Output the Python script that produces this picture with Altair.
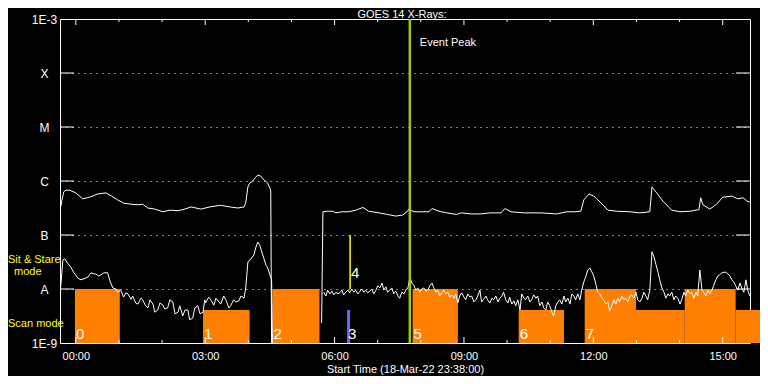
import altair as alt
import pandas as pd

# ---------------- data ----------------
# time: hours from 00:00 UT 19-Mar-22 (plot starts 18-Mar-22 23:38)
# flux: log10 of GOES X-ray flux in W/m^2
long_t1 = [-0.35, -0.32, -0.28, -0.23, -0.14, 0.00, 0.16, 0.32, 0.51, 0.70,
           0.83, 0.97, 1.11, 1.28, 1.44, 1.55, 1.67, 1.83, 2.02, 2.18,
           2.37, 2.53, 2.67, 2.90, 3.11, 3.36, 3.57, 3.76, 3.90, 3.94,
           3.99, 4.03, 4.10, 4.17, 4.22, 4.29, 4.34, 4.45, 4.52, 4.54]
long_log1 = [-6.48, -6.35, -6.20, -6.17, -6.17, -6.22, -6.33, -6.30, -6.24, -6.22,
             -6.28, -6.35, -6.41, -6.43, -6.44, -6.43, -6.50, -6.52, -6.57, -6.54,
             -6.55, -6.52, -6.48, -6.52, -6.48, -6.45, -6.48, -6.50, -6.48, -6.41,
             -6.11, -6.04, -6.00, -5.93, -5.89, -5.91, -5.96, -6.04, -6.17, -9.0]

long_t2 = [5.70, 5.73, 5.84, 5.96, 6.03, 6.17, 6.33, 6.49, 6.66, 6.79,
           7.03, 7.23, 7.42, 7.58, 7.68, 7.72, 7.84, 7.95, 8.19, 8.26,
           8.42, 8.60, 8.83, 8.93, 9.16, 9.39, 9.62, 9.86, 9.95, 10.09,
           10.39, 10.78, 11.15, 11.39, 11.57, 11.71, 11.78, 11.90, 12.01, 12.08,
           12.22, 12.34, 12.54, 12.85, 13.08, 13.31, 13.36, 13.47, 13.61, 13.82,
           14.01, 14.24, 14.45, 14.49, 14.54, 14.70, 14.86, 15.00, 15.21, 15.35,
           15.47, 15.56, 15.63]
long_log2 = [-8.63, -6.57, -6.56, -6.56, -6.59, -6.57, -6.57, -6.54, -6.49, -6.56,
             -6.59, -6.62, -6.65, -6.63, -6.57, -6.52, -6.57, -6.57, -6.57, -6.51,
             -6.56, -6.59, -6.62, -6.59, -6.61, -6.61, -6.59, -6.59, -6.51, -6.57,
             -6.59, -6.59, -6.61, -6.57, -6.57, -6.56, -6.35, -6.24, -6.28, -6.33,
             -6.44, -6.54, -6.56, -6.57, -6.59, -6.57, -6.11, -6.22, -6.37, -6.54,
             -6.57, -6.56, -6.53, -6.31, -6.44, -6.52, -6.43, -6.30, -6.28, -6.33,
             -6.31, -6.37, -6.39]

short_t1 = [-0.35, -0.30, -0.26, -0.19, -0.12, -0.05, 0.05, 0.12, 0.19, 0.28,
            0.35, 0.42, 0.46, 0.53, 0.58, 0.65, 0.74, 0.79, 0.86, 0.93,
            0.97, 1.04, 1.11, 1.16, 1.21, 1.28, 1.32, 1.39, 1.44, 1.51,
            1.55, 1.62, 1.67, 1.72, 1.79, 1.83, 1.90, 1.95, 2.02, 2.06,
            2.13, 2.18, 2.25, 2.30, 2.37, 2.41, 2.48, 2.53, 2.60, 2.64,
            2.71, 2.76, 2.83, 2.88, 2.95, 2.99, 3.01, 3.08, 3.13, 3.20,
            3.25, 3.32, 3.36, 3.43, 3.48, 3.55, 3.59, 3.66, 3.71, 3.78,
            3.83, 3.90, 3.94, 3.99, 4.06, 4.13, 4.17, 4.22, 4.27, 4.31,
            4.36, 4.41, 4.45, 4.50, 4.54, 4.56]
short_log1 = [-7.96, -7.46, -7.44, -7.52, -7.59, -7.69, -7.80, -7.83, -7.81, -7.78,
              -7.70, -7.72, -7.72, -7.76, -7.74, -7.70, -7.70, -7.85, -7.98, -8.00,
              -8.06, -8.02, -8.15, -8.07, -8.09, -8.19, -8.13, -8.26, -8.28, -8.17,
              -8.20, -8.31, -8.35, -8.20, -8.28, -8.43, -8.39, -8.26, -8.30, -8.37,
              -8.35, -8.20, -8.24, -8.46, -8.43, -8.31, -8.50, -8.39, -8.39, -8.57,
              -8.54, -8.35, -8.31, -8.46, -8.43, -8.20, -8.26, -8.15, -8.20, -8.30,
              -8.17, -8.24, -8.28, -8.13, -8.20, -8.35, -8.31, -8.20, -8.24, -8.22,
              -8.13, -8.17, -7.98, -7.50, -7.44, -7.37, -7.24, -7.13, -7.20, -7.31,
              -7.43, -7.56, -7.61, -7.74, -7.83, -9.0]

short_t2 = [5.75, 5.80, 5.84, 5.89, 5.94, 5.98, 6.03, 6.08, 6.12, 6.17,
            6.21, 6.26, 6.31, 6.35, 6.40, 6.45, 6.49, 6.54, 6.59, 6.63,
            6.68, 6.72, 6.77, 6.82, 6.86, 6.91, 6.96, 7.00, 7.05, 7.10,
            7.14, 7.19, 7.23, 7.28, 7.33, 7.37, 7.42, 7.47, 7.51, 7.56,
            7.61, 7.65, 7.70, 7.75, 7.79, 7.84, 7.88, 7.93, 7.98, 8.02,
            8.07, 8.12, 8.16, 8.21, 8.26, 8.30, 8.35, 8.39, 8.44, 8.49,
            8.53, 8.58, 8.63, 8.67, 8.72, 8.77, 8.81, 8.86, 8.90, 8.95,
            9.00, 9.04, 9.09, 9.14, 9.18, 9.23, 9.28, 9.32, 9.37, 9.41,
            9.46, 9.51, 9.55, 9.60, 9.65, 9.69, 9.74, 9.79, 9.83, 9.88,
            9.92, 9.97, 10.02, 10.06, 10.11, 10.16, 10.20, 10.25, 10.30, 10.34,
            10.39, 10.43, 10.48, 10.53, 10.57, 10.62, 10.67, 10.71, 10.76, 10.81,
            10.85, 10.90, 10.94, 10.99, 11.04, 11.08, 11.13, 11.18, 11.22, 11.27,
            11.32, 11.36, 11.41, 11.46, 11.50, 11.55, 11.59, 11.64, 11.69, 11.73,
            11.78, 11.83, 11.87, 11.92, 11.97, 12.01, 12.06, 12.10, 12.15, 12.20,
            12.24, 12.29, 12.34, 12.38, 12.43, 12.48, 12.52, 12.57, 12.61, 12.66,
            12.71, 12.75, 12.80, 12.85, 12.89, 12.94, 12.99, 13.03, 13.08, 13.13,
            13.17, 13.22, 13.26, 13.31, 13.36, 13.40, 13.45, 13.50, 13.54, 13.59,
            13.64, 13.68, 13.73, 13.77, 13.82, 13.87, 13.91, 13.96, 14.01, 14.05,
            14.10, 14.14, 14.19, 14.24, 14.28, 14.33, 14.38, 14.42, 14.47, 14.52,
            14.56, 14.61, 14.66, 14.70, 14.75, 14.79, 14.84, 14.89, 14.93, 14.98,
            15.03, 15.07, 15.12, 15.17, 15.21, 15.26, 15.30, 15.35, 15.40, 15.44,
            15.49, 15.54, 15.58, 15.63]
short_log2 = [-8.06, -8.13, -8.02, -8.09, -8.04, -8.11, -8.06, -8.09, -8.07, -8.02,
              -8.11, -8.06, -8.02, -8.07, -8.00, -8.06, -8.02, -8.09, -8.04, -8.00,
              -8.06, -8.02, -8.07, -8.04, -8.00, -8.09, -8.02, -7.94, -7.98, -7.89,
              -8.02, -7.96, -8.06, -8.02, -7.98, -8.09, -8.04, -8.13, -8.17, -8.06,
              -8.09, -8.02, -7.98, -7.78, -7.89, -7.93, -8.02, -7.98, -8.06, -8.00,
              -7.98, -8.04, -8.02, -7.94, -7.89, -7.98, -8.06, -8.02, -8.13, -8.07,
              -8.02, -8.09, -8.06, -8.15, -8.11, -8.17, -8.09, -8.26, -8.13, -8.07,
              -8.15, -8.20, -8.09, -8.15, -8.13, -8.24, -8.20, -8.13, -8.02, -8.24,
              -8.19, -8.13, -8.20, -8.26, -8.17, -8.20, -8.13, -8.24, -8.17, -8.13,
              -8.06, -8.20, -8.26, -8.15, -8.28, -8.22, -8.31, -8.20, -8.39, -8.09,
              -8.17, -8.20, -8.13, -8.24, -8.20, -8.11, -8.17, -8.13, -8.31, -8.24,
              -8.35, -8.39, -8.24, -8.31, -8.43, -8.50, -8.31, -8.24, -8.20, -8.28,
              -8.13, -8.24, -8.17, -8.28, -8.09, -8.13, -8.20, -8.09, -8.20, -8.02,
              -7.87, -7.76, -7.65, -7.61, -7.69, -7.76, -7.91, -8.06, -8.09, -8.17,
              -8.20, -8.28, -8.24, -8.41, -8.31, -8.20, -8.28, -8.17, -8.24, -8.13,
              -8.20, -8.17, -8.24, -8.13, -8.11, -8.17, -8.06, -8.20, -8.24, -8.17,
              -8.06, -8.13, -8.20, -8.02, -7.31, -7.39, -7.54, -7.69, -7.83, -7.98,
              -8.06, -8.17, -8.09, -8.13, -8.06, -8.20, -8.13, -8.17, -8.28, -8.20,
              -8.06, -8.13, -8.02, -8.09, -8.06, -8.17, -8.06, -8.13, -7.65, -8.02,
              -8.06, -8.13, -8.02, -8.09, -8.02, -7.94, -7.83, -7.76, -7.74, -7.70,
              -7.69, -7.69, -7.72, -7.76, -7.83, -7.87, -7.94, -8.02, -7.89, -7.98,
              -8.06, -7.83, -8.02, -8.13]

# instrument mode blocks (hours) -- "Sit & Stare" or "Scan"
block_start = [-0.02, 2.95, 4.56, 7.81, 10.27, 11.80, 12.99, 14.12, 15.30]
block_end = [1.02, 4.03, 5.65, 8.86, 11.32, 12.99, 14.12, 15.30, 16.05]
block_mode = ["Sit & Stare", "Scan", "Sit & Stare", "Sit & Stare", "Scan",
              "Sit & Stare", "Scan", "Sit & Stare", "Scan"]
mode_level = {"Sit & Stare": 1.0e-8, "Scan": 4.1e-9}

# block numbers
label_text = ["0", "1", "2", "3", "5", "6", "7"]
label_t = [-0.02, 2.95, 4.56, 6.29, 7.81, 10.27, 11.80]
label4_t = 6.36
label4_flux = 2.0e-8

# blue (3) and yellow (4) markers
blue_t0, blue_t1, blue_top = 6.29, 6.36, 4.1e-9
yellow_t, yellow_lo, yellow_hi = 6.36, 1.0e-8, 1.0e-7

event_peak = 7.745

class_flux = [1e-9, 1e-8, 1e-7, 1e-6, 1e-5, 1e-4, 1e-3]
class_labels = ["1E-9", "A", "B", "C", "M", "X", "1E-3"]

tick_hours = list(range(0, 16))
major_hours = [0, 3, 6, 9, 12, 15]

title_text = "GOES 14 X-Rays:"

# ---------------- build tables ----------------
rows = []
for name, ts, ls in [("long1", long_t1, long_log1), ("long2", long_t2, long_log2),
                     ("short1", short_t1, short_log1), ("short2", short_t2, short_log2)]:
    for t, lg in zip(ts, ls):
        rows.append({"t": t, "flux": 10 ** lg, "seg": name})
curves = pd.DataFrame(rows)

blocks = pd.DataFrame({
    "t": block_start, "t1": block_end,
    "flux": [1e-9] * len(block_start),
    "hi": [mode_level[m] for m in block_mode],
})
labels = pd.DataFrame({"t": label_t, "txt": label_text, "flux": [1e-9] * len(label_t)})
label4 = pd.DataFrame({"t": [label4_t], "txt": ["4"], "flux": [label4_flux]})
blue = pd.DataFrame({"t": [blue_t0], "t1": [blue_t1], "flux": [1e-9], "hi": [blue_top]})
yellow = pd.DataFrame({"t": [yellow_t], "flux": [yellow_lo], "hi": [yellow_hi]})
peak = pd.DataFrame({"t": [event_peak], "txt": ["Event Peak"]})
levels = pd.DataFrame({"flux": class_flux[1:-1]})
minor = pd.DataFrame({"t": [h for h in tick_hours if h not in major_hours]})
major = pd.DataFrame({"t": major_hours})

FONT = "Liberation Sans"
W, H = 690, 324
xscale = alt.Scale(domain=[-22 / 60, 15 + 38 / 60], nice=False, zero=False)
yscale = alt.Scale(type="log", domain=[1e-9, 1e-3], nice=False)

label_expr = "".join(
    f"datum.value < {f * 3:.3g} ? '{lab}' : " for f, lab in zip(class_flux[:-1], class_labels[:-1])
) + f"'{class_labels[-1]}'"

x_axis = alt.Axis(values=major_hours, ticks=False, domain=False, grid=False,
                  labelExpr="(datum.value < 10 ? '0' : '') + datum.value + ':00'",
                  labelColor="white", labelFont=FONT, labelFontSize=11, labelPadding=7,
                  title="Start Time (18-Mar-22 23:38:00)", titleColor="white",
                  titleFont=FONT, titleFontSize=11, titleFontWeight="normal", titlePadding=2)
y_axis = alt.Axis(values=class_flux, ticks=False, domain=False, grid=True,
                  gridColor="white", gridDash=[1, 5], gridWidth=1, gridOpacity=1,
                  labelExpr=label_expr, labelAlign="center", labelPadding=16,
                  labelColor="white", labelFont=FONT, labelFontSize=12, title=None)

X = alt.X("t:Q", scale=xscale, axis=x_axis)
Y = alt.Y("flux:Q", scale=yscale, axis=y_axis)

rects = alt.Chart(blocks).mark_rect(color="#ff8000").encode(x=X, x2="t1:Q", y=Y, y2="hi:Q")
blue_rect = alt.Chart(blue).mark_rect(color="#6464ff").encode(x=X, x2="t1:Q", y=Y, y2="hi:Q")
yellow_rule = alt.Chart(yellow).mark_rule(color="#ffff00", strokeWidth=1.5).encode(
    x=X, y=Y, y2="hi:Q")

lines = alt.Chart(curves).mark_line(color="white", strokeWidth=1).encode(
    x=X, y=Y, detail="seg:N", order="t:Q")

peak_rule = alt.Chart(peak).mark_rule(color="#a0c800", strokeWidth=2.5).encode(x=X)
peak_text = alt.Chart(peak).mark_text(color="white", font=FONT, fontSize=11, align="left",
                                      baseline="middle", dx=10).encode(
    x=X, y=alt.value(24), text="txt:N")

num_text = alt.Chart(labels).mark_text(color="white", font=FONT, fontSize=15, align="left",
                                       baseline="alphabetic", dx=1, dy=-4).encode(
    x=X, y=Y, text="txt:N")
num4_text = alt.Chart(label4).mark_text(color="white", font=FONT, fontSize=15, align="left",
                                        baseline="middle", dx=1).encode(
    x=X, y=Y, text="txt:N")

ytick_l = alt.Chart(levels).mark_rule(color="white").encode(
    y=Y, x=alt.value(0), x2=alt.value(14))
ytick_r = alt.Chart(levels).mark_rule(color="white").encode(
    y=Y, x=alt.value(W - 14), x2=alt.value(W))

def xticks(df, length):
    bot = alt.Chart(df).mark_rule(color="white").encode(
        x=X, y=alt.value(H), y2=alt.value(H - length))
    top = alt.Chart(df).mark_rule(color="white").encode(
        x=X, y=alt.value(0), y2=alt.value(length))
    return [bot, top]

def free_text(txt, px, py, color, size, align="left"):
    return alt.Chart(peak).mark_text(color=color, font=FONT, fontSize=size, align=align,
                                     baseline="alphabetic", text=txt).encode(
        x=alt.value(px), y=alt.value(py))

chart = alt.layer(
    rects, blue_rect, yellow_rule, lines, peak_rule, peak_text, num_text, num4_text,
    ytick_l, ytick_r, *xticks(major, 6), *xticks(minor, 3),
    free_text("Sit & Stare", -52, 244, "#ffff00", 11),
    free_text("mode", -46, 256, "#ffff00", 11),
    free_text("Scan mode", -52, 308, "#ffff00", 11),
    free_text(title_text, W / 2 - 3, -1, "white", 11, align="center"),
).properties(
    width=W, height=H,
    padding={"left": 52, "top": 11, "right": 10, "bottom": 33},
    autosize=alt.AutoSizeParams(type="none"),
    background="black",
).configure_view(stroke="white", strokeWidth=1)

chart.save("out.html", embed_options={"renderer": "svg", "actions": False})
